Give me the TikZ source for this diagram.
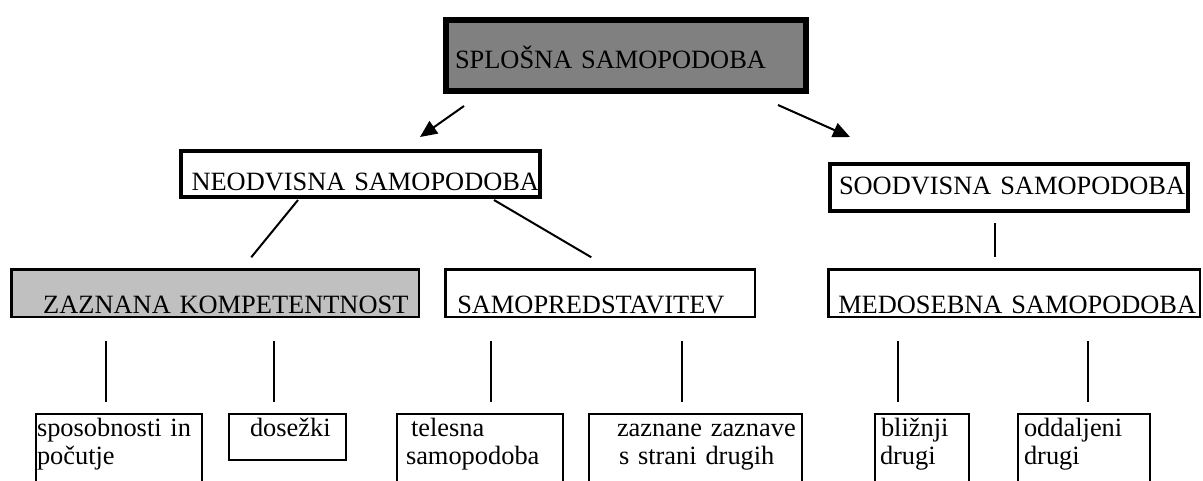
\documentclass[tikz,border=0pt]{standalone}
\usepackage{fontspec}
\setmainfont{Liberation Serif}
\usepackage{color}
\usetikzlibrary{arrows.meta,calc}
\definecolor{topgray}{RGB}{128,128,128}
\definecolor{kompgray}{RGB}{192,192,192}

\begin{document}
\begin{tikzpicture}[x=1pt,y=-1pt,
		every node/.style={font=\fontsize{26.4}{28}\selectfont, anchor=north west, inner xsep=0pt, inner ysep=0pt, align=left},
		box/.style={draw, line width=#1},
		low/.style={box=2pt, text height=22pt, text depth=60pt},
		link/.style={line width=2pt},
		arr/.style={line width=2pt, -{Triangle[length=17pt,width=15pt]}}]
		\useasboundingbox (0,0) rectangle (1203,480);

		\node[box=6pt, fill=topgray, text width=360pt, text height=48pt, text depth=23pt] (spl) at (443,17) {\hspace*{9pt}SPLOŠNA SAMOPODOBA};
		\node[box=4pt, text width=359pt, text height=39pt, text depth=7pt] (neo) at (179,149) {\hspace*{10.5pt}NEODVISNA SAMOPODOBA};
		\node[box=4pt, text width=358pt, text height=30pt, text depth=17pt] (soo) at (828,162) {\hspace*{9pt}SOODVISNA SAMOPODOBA};

		\node[box=2.5pt, fill=kompgray, text width=407.5pt, text height=43.75pt, text depth=3.75pt] (zaz) at (10.25,268.25) {\hspace*{31.75pt}ZAZNANA KOMPETENTNOST};
		\node[box=2.5pt, text width=309.5pt, text height=43.75pt, text depth=3.75pt] (sam) at (444.25,268.25) {\hspace*{11.75pt}SAMOPREDSTAVITEV};
		\node[box=2.5pt, text width=371.5pt, text height=43.75pt, text depth=3.75pt] (med) at (827.25,268.25) {\hspace*{9.75pt}MEDOSEBNA SAMOPODOBA};

		\node[low, text width=166pt] (spo) at (35,413) {\hspace*{1pt}sposobnosti in\\\hspace*{1pt}počutje};
		\node[low, text width=117pt, text depth=24pt] (dos) at (228,413) {\hspace*{21pt}dosežki};
		\node[low, text width=166pt] (tel) at (396,413) {\hspace*{14pt}telesna\\\hspace*{9pt}samopodoba};
		\node[low, text width=213pt] (zazn) at (588,413) {\hspace*{28pt}zaznane zaznave\\\hspace*{30pt}s strani drugih};
		\node[low, text width=94pt] (bli) at (874,413) {\hspace*{6pt}bližnji\\\hspace*{5pt}drugi};
		\node[low, text width=132pt] (odd) at (1017,413) {\hspace*{6pt}oddaljeni\\\hspace*{6pt}drugi};

		\draw[arr] ($(spl.south west)+(21,12)$) -- ($(neo.north west)+(241,-12)$);
		\draw[arr] ($(spl.south west)+(335,11)$) -- ($(soo.north west)+(22,-25)$);
		\draw[link] ($(neo.south west)+(119,1)$) -- ($(zaz.north west)+(241,-11)$);
		\draw[link] ($(neo.south west)+(315,1)$) -- ($(sam.north west)+(147,-11)$);
		\draw[link] ($(soo.south west)+(167,10)$) -- ($(soo.south west |- med.north)+(167,-11)$);
		\foreach \lo/\up/\dx in {spo/zaz/71,dos/zaz/46,tel/sam/95,zazn/sam/94,bli/med/24,odd/med/71}
		\draw[link] ($(\lo.north west |- \up.south)+(\dx,23)$) -- ($(\lo.north west)+(\dx,-11)$);
\end{tikzpicture}
\end{document}
